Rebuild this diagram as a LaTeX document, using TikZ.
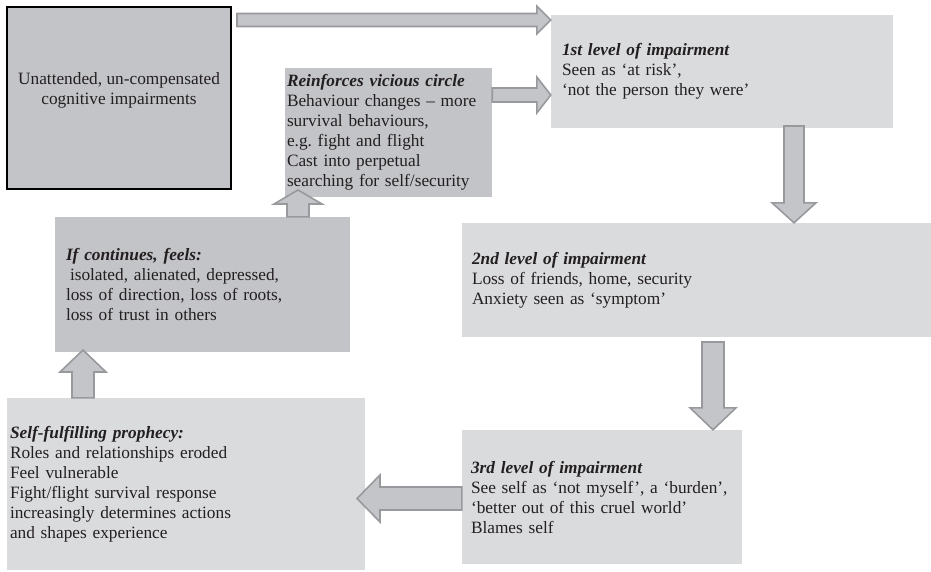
\documentclass[tikz,border=0pt]{standalone}
\usepackage{fontspec}
\setmainfont{Liberation Serif}
\usepackage{tikz}
\definecolor{boxdark}{RGB}{195,196,200}
\definecolor{boxlight}{RGB}{218,219,221}
\definecolor{arrowfill}{RGB}{196,197,201}
\definecolor{arrowline}{RGB}{152,153,157}
\definecolor{ink}{RGB}{35,31,32}
\usetikzlibrary{calc}
\pgfdeclarelayer{edgelayer}
\pgfdeclarelayer{nodelayer}
\pgfsetlayers{nodelayer,edgelayer,main}
\hyphenpenalty=10000
\tikzstyle{panel}=[rectangle,align=left,inner ysep=0pt,text=ink,font=\fontsize{17.3}{20}\selectfont]
\tikzstyle{darkbox}=[panel,fill=boxdark]
\tikzstyle{lightbox}=[panel,fill=boxlight]
\tikzset{fatarrow/.style n args={3}{draw=arrowline,fill=arrowfill,line width=1.6pt,line join=miter,
    to path={($(\tikztotarget)!#3!(\tikztostart)$) coordinate (head)
        ($(\tikztostart)!#1!90:(\tikztotarget)$) -- ($(head)!#1!90:(\tikztotarget)$)
        -- ($(head)!#2!90:(\tikztotarget)$) -- (\tikztotarget)
        -- ($(head)!#2!-90:(\tikztotarget)$) -- ($(head)!#1!-90:(\tikztotarget)$)
        -- ($(\tikztostart)!#1!-90:(\tikztotarget)$) -- cycle}}}

\begin{document}
\begin{tikzpicture}[x=1pt,y=-1pt]
        \useasboundingbox (0,0) rectangle (931,571);
        \begin{pgfonlayer}{nodelayer}
            \node [style = darkbox, draw=black, line width=1.2pt, align=center, text depth=20pt, minimum width=224pt, minimum height=182pt] (unatt) at (119,98) {Unattended, un-compensated\\cognitive impairments};
            \node [style = darkbox, inner xsep=2pt, text width=203pt, minimum height=129pt] (vicious) at (388.5,132.5) {\textbf{\textit{Reinforces vicious circle}}\\Behaviour changes -- more\\survival behaviours,\\e.g.\ fight and flight\\Cast into perpetual\\searching for self/security};
            \node [style = lightbox, inner xsep=11pt, text width=320pt, minimum height=113pt] (lvl1) at (722,71.5) {\textbf{\textit{1st level of impairment}}\\Seen as `at risk',\\`not the person they were'};
            \node [style = lightbox, inner xsep=10pt, text width=449pt, minimum height=114pt] (lvl2) at (696.5,280) {\textbf{\textit{2nd level of impairment}}\\Loss of friends, home, security\\Anxiety seen as `symptom'};
            \node [style = lightbox, inner xsep=9pt, text width=262pt, minimum height=134pt] (lvl3) at (602,497) {\textbf{\textit{3rd level of impairment}}\\See self as `not myself', a `burden',\\`better out of this cruel world'\\Blames self};
            \node [style = lightbox, inner xsep=3pt, text width=352pt, minimum height=172pt] (prophecy) at (186,484) {\textbf{\textit{Self-fulfilling prophecy:}}\\Roles and relationships eroded\\Feel vulnerable\\Fight/flight survival response\\increasingly determines actions\\and shapes experience};
            \node [style = darkbox, inner xsep=11pt, text width=273pt, minimum height=135pt] (feels) at (202.5,284.5) {\textbf{\textit{If continues, feels:}}\\\hspace{4pt}isolated, alienated, depressed,\\loss of direction, loss of roots,\\loss of trust in others};
        \end{pgfonlayer}

        \coordinate (a1s) at (237,20);
        \coordinate (a1e) at (lvl1.west |- a1s);
        \coordinate (a2s) at (vicious.east |- 0,95);
        \coordinate (a2e) at (lvl1.west |- a2s);
        \coordinate (a3s) at (794,126);
        \coordinate (a3e) at (a3s |- lvl2.north);
        \coordinate (a4s) at (713,342);
        \coordinate (a4e) at (a4s |- lvl3.north);
        \coordinate (a5s) at (lvl3.west |- 0,498.5);
        \coordinate (a5e) at (357,498.5);
        \coordinate (a6e) at (83,350);
        \coordinate (a6s) at (a6e |- prophecy.north);
        \coordinate (a7e) at (298,190);
        \coordinate (a7s) at (a7e |- feels.north);

        \begin{pgfonlayer}{edgelayer}
            \draw [fatarrow={6.5pt}{14pt}{14pt}] (a1s) to (a1e);
            \draw [fatarrow={7pt}{18pt}{14pt}] (a2s) to (a2e);
            \draw [fatarrow={10pt}{22pt}{20pt}] (a3s) to (a3e);
            \draw [fatarrow={11pt}{23pt}{22pt}] (a4s) to (a4e);
            \draw [fatarrow={11.5pt}{23.5pt}{23pt}] (a5s) to (a5e);
            \draw [fatarrow={11pt}{23pt}{22pt}] (a6s) to (a6e);
            \draw [fatarrow={11pt}{24pt}{14pt}] (a7s) to (a7e);
        \end{pgfonlayer}
    \end{tikzpicture}
\end{document}
